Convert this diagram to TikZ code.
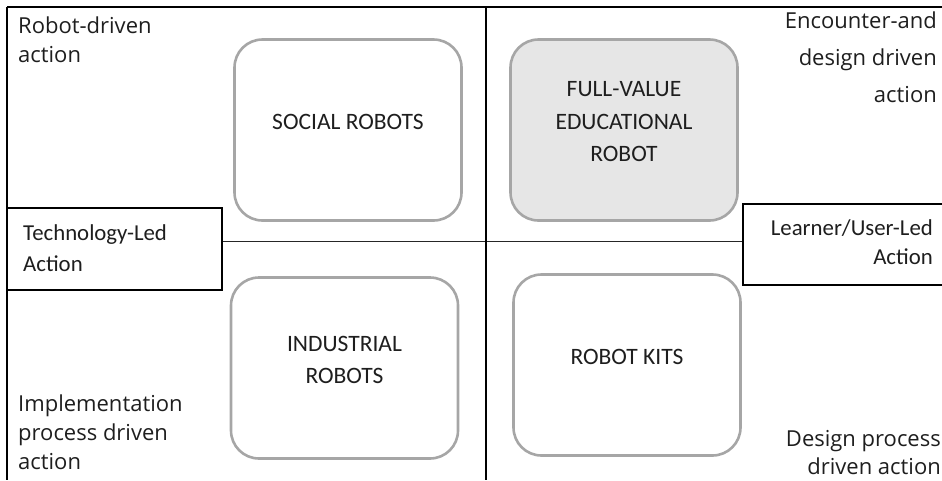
\documentclass[tikz,border=0pt]{standalone}
\usepackage{fontspec}
\setmainfont{Carlito}
\newfontfamily\cornerfont{Open Sans}
\usetikzlibrary{positioning}

\definecolor{boxgray}{HTML}{A6A6A6}
\definecolor{boxfill}{HTML}{E6E6E6}
\definecolor{inkdark}{HTML}{1E1E1E}

\begin{document}
\begin{tikzpicture}[x=1pt,y=-1pt,
  frameline/.style={line width=2pt, black},
  axisline/.style={line width=1pt, black!85},
  robotbox/.style={draw=boxgray, line width=2.6pt, rounded corners=28pt,
    minimum width=227pt, minimum height=181pt, inner sep=0pt},
  boxtext/.style={font=\fontsize{23.5}{32.5}\selectfont, align=center, text=inkdark, inner sep=0pt},
  leadbox/.style={draw=black, line width=1.2pt, inner sep=0pt},
  leadtext/.style={font=\fontsize{22.8}{31}\selectfont, text=inkdark, inner sep=0pt},
  cornertext/.style={font=\cornerfont\fontsize{22}{29}\selectfont, text=inkdark, inner sep=0pt}
]
\useasboundingbox (0,0) rectangle (942,480);

% outer frame and central divider
\coordinate (tl) at (7,7);
\coordinate (tr) at (942,7);
\coordinate (bl) at (7,480);
\coordinate (vtop) at (486,7);
\coordinate (vbot) at (486,480);
\coordinate (axis) at (486,241);

% label boxes on the horizontal axis
\node[leadbox, minimum width=215pt, minimum height=82pt] (techbox) at (114.5,249) {};
\node[leadbox, minimum width=202pt, minimum height=81pt] (userbox) at (844,244.5) {};

\draw[axisline] (axis -| techbox.east) -- (axis -| userbox.west);
\draw[frameline] (tl) -- (tr);
\draw[frameline] (tl) -- (bl);
\draw[frameline] (vtop) -- (vbot);

% multi-line texts are placed by the baseline of their last line
\node[leadtext, anchor=base west, align=left] (techtxt) at (23,271) {Technology-Led\\Action};
\node[leadtext, anchor=base east, align=right, font=\fontsize{22.8}{29}\selectfont] (usertxt) at (933,264) {Learner/User-Led\\Action};

% the four robot categories
\node[robotbox] (social) at (348,130) {};
\node[robotbox, fill=boxfill] (fullvalue) at (624,130) {};
\node[robotbox] (industrial) at (344.5,368) {};
\node[robotbox] (kits) at (627,365) {};

\node[boxtext] (socialtxt) at ([yshift=8pt]social.center) {SOCIAL ROBOTS};
\node[boxtext] (fullvaluetxt) at ([yshift=8pt]fullvalue.center) {FULL-VALUE\\EDUCATIONAL\\ROBOT};
\node[boxtext] (industrialtxt) at ([yshift=8pt]industrial.center) {INDUSTRIAL\\ROBOTS};
\node[boxtext] (kitstxt) at ([yshift=8pt]kits.center) {ROBOT KITS};

% corner descriptions
\node[cornertext, anchor=base west, align=left] (robotdriven) at (18,62) {Robot-driven\\action};
\node[cornertext, anchor=base east, align=right, font=\cornerfont\fontsize{22}{37}\selectfont] (encounter) at (937,102) {Encounter-and\\design driven\\action};
\node[cornertext, anchor=base west, align=left] (implementation) at (18,469) {Implementation\\process driven\\action};
\node[cornertext, anchor=base east, align=right, font=\cornerfont\fontsize{22}{28}\selectfont] (designproc) at (941,474) {Design process\\driven action};

\end{tikzpicture}
\end{document}
